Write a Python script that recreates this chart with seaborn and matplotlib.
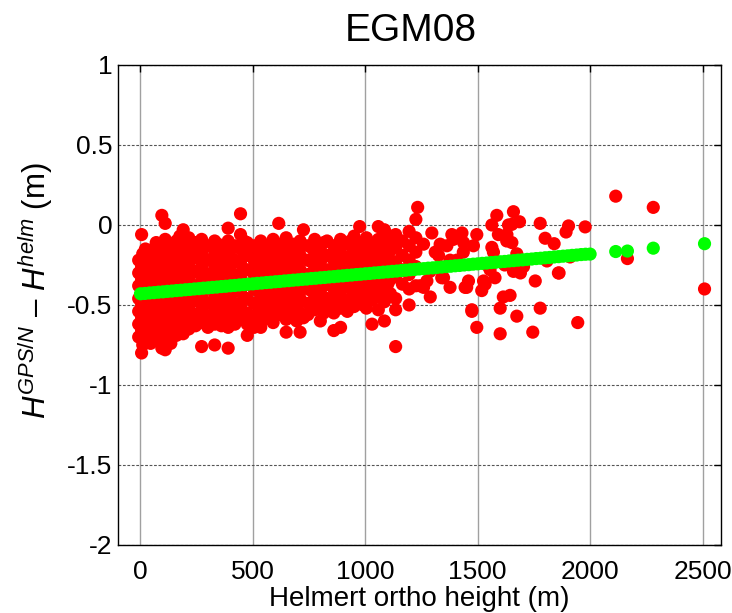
import numpy as np
import pandas as pd
import matplotlib
matplotlib.use('Agg')
import matplotlib.pyplot as plt
import seaborn as sns

# --- red: individual GPS/levelling stations ---
red_x = [
    -8, -8, -8, -8, -8, -8, -8,
    5, 5, 5, 5, 5, 5, 5, 5,
    22, 22, 22, 22, 22, 22, 22, 22,
    45, 45, 45, 45, 45, 45, 45, 45,
    70, 70, 70, 70, 70, 70, 70, 70,
    95, 95, 95, 95, 95, 95, 95, 95, 95,
    110, 110, 110, 110, 110, 110, 110, 110, 110, 110,
    135, 135, 135, 135, 135, 135, 135, 135,
    160, 160, 160, 160, 160, 160, 160, 160,
    190, 190, 190, 190, 190, 190, 190, 190, 190,
    215, 215, 215, 215, 215, 215, 215, 215,
    245, 245, 245, 245, 245, 245, 245,
    272, 272, 272, 272, 272, 272, 272, 272,
    300, 300, 300, 300, 300, 300, 300,
    330, 330, 330, 330, 330, 330, 330, 330,
    360, 360, 360, 360, 360, 360, 360,
    390, 390, 390, 390, 390, 390, 390, 390, 390,
    420, 420, 420, 420, 420, 420, 420,
    445, 445, 445, 445, 445, 445, 445, 445,
    475, 475, 475, 475, 475, 475, 475, 475,
    505, 505, 505, 505, 505, 505, 505,
    535, 535, 535, 535, 535, 535, 535, 535,
    565, 565, 565, 565, 565, 565,
    590, 590, 590, 590, 590, 590, 590,
    615, 615, 615, 615, 615, 615, 615,
    648, 648, 648, 648, 648, 648, 648, 648,
    678, 678, 678, 678, 678, 678,
    710, 710, 710, 710, 710, 710, 710,
    725, 725,
    745, 745, 745, 745, 745, 745,
    775, 775, 775, 775, 775, 775,
    800, 800, 800, 800, 800, 800,
    830, 830, 830, 830, 830, 830,
    860, 860, 860, 860, 860, 860, 860,
    890, 890, 890, 890, 890, 890, 890,
    920, 920, 920, 920, 920, 920,
    950, 950, 950, 950, 950, 950,
    975, 975, 975, 975, 975, 975,
    1005, 1005, 1005, 1005, 1005, 1005,
    1030, 1030, 1030, 1030, 1030, 1030,
    1058, 1058, 1058, 1058, 1058, 1058, 1058,
    1085, 1085, 1085, 1085, 1085, 1085, 1085,
    1112, 1112, 1112, 1112, 1112,
    1135, 1135, 1135, 1135, 1135, 1135, 1135,
    1165, 1165, 1165, 1165,
    1195, 1195, 1195, 1195, 1195, 1195,
    1225, 1225, 1225, 1225, 1225,
    1233, 1244, 1259, 1259, 1274, 1288, 1289, 1296, 1311, 1326,
    1333, 1340, 1348, 1363, 1377, 1377, 1385, 1392, 1407, 1430,
    1436, 1437, 1444, 1451, 1459, 1474, 1474, 1481, 1496, 1496,
    1518, 1526, 1533, 1541, 1555, 1563, 1563, 1570, 1577, 1585,
    1592, 1600, 1600, 1614, 1620, 1629, 1630, 1637, 1644, 1652,
    1652, 1659, 1659, 1674, 1674, 1686, 1690, 1704, 1745, 1756,
    1778, 1778, 1800, 1808, 1840, 1859, 1862, 1893, 1904, 1911,
    1945, 1978,
    2114, 2166, 2281, 2509,
]
red_y = [
    -0.22, -0.30, -0.38, -0.46, -0.54, -0.62, -0.70,
    -0.06, -0.26, -0.34, -0.42, -0.50, -0.58, -0.66, -0.80,
    -0.15, -0.24, -0.32, -0.40, -0.48, -0.56, -0.64, -0.72,
    -0.18, -0.27, -0.35, -0.44, -0.52, -0.60, -0.68, -0.74,
    -0.11, -0.20, -0.29, -0.37, -0.46, -0.55, -0.63, -0.71,
    0.06, -0.13, -0.22, -0.31, -0.40, -0.49, -0.58, -0.66, -0.77,
    0.01, -0.09, -0.17, -0.26, -0.35, -0.44, -0.53, -0.61, -0.70, -0.78,
    -0.14, -0.23, -0.32, -0.41, -0.50, -0.58, -0.66, -0.74,
    -0.10, -0.19, -0.28, -0.37, -0.46, -0.55, -0.63, -0.69,
    -0.03, -0.12, -0.21, -0.30, -0.39, -0.48, -0.57, -0.64, -0.68,
    -0.08, -0.16, -0.25, -0.34, -0.43, -0.52, -0.60, -0.65,
    -0.11, -0.20, -0.29, -0.38, -0.47, -0.56, -0.63,
    -0.09, -0.17, -0.26, -0.35, -0.44, -0.53, -0.61, -0.76,
    -0.13, -0.22, -0.31, -0.40, -0.49, -0.57, -0.64,
    -0.10, -0.18, -0.27, -0.36, -0.45, -0.54, -0.62, -0.75,
    -0.14, -0.23, -0.32, -0.41, -0.50, -0.58, -0.63,
    -0.02, -0.10, -0.19, -0.28, -0.37, -0.46, -0.55, -0.64, -0.77,
    -0.13, -0.22, -0.31, -0.40, -0.49, -0.57, -0.62,
    0.07, -0.06, -0.15, -0.24, -0.33, -0.42, -0.51, -0.59,
    -0.11, -0.19, -0.28, -0.37, -0.46, -0.55, -0.62, -0.69,
    -0.13, -0.22, -0.31, -0.40, -0.49, -0.57, -0.64,
    -0.10, -0.18, -0.27, -0.36, -0.45, -0.54, -0.61, -0.64,
    -0.14, -0.23, -0.32, -0.41, -0.50, -0.58,
    -0.09, -0.18, -0.27, -0.36, -0.45, -0.54, -0.61,
    0.01, -0.12, -0.21, -0.30, -0.39, -0.48, -0.56,
    -0.08, -0.16, -0.25, -0.34, -0.43, -0.52, -0.59, -0.67,
    -0.12, -0.21, -0.30, -0.39, -0.48, -0.56,
    -0.10, -0.19, -0.28, -0.37, -0.46, -0.55, -0.67,
    -0.03, -0.58,
    -0.13, -0.22, -0.31, -0.40, -0.49, -0.56,
    -0.09, -0.18, -0.27, -0.36, -0.45, -0.53,
    -0.14, -0.23, -0.32, -0.41, -0.50, -0.60,
    -0.10, -0.19, -0.28, -0.37, -0.46, -0.53,
    -0.13, -0.22, -0.31, -0.40, -0.49, -0.55, -0.66,
    -0.09, -0.18, -0.27, -0.36, -0.45, -0.52, -0.64,
    -0.12, -0.21, -0.30, -0.39, -0.47, -0.54,
    -0.07, -0.16, -0.25, -0.34, -0.43, -0.51,
    -0.01, -0.11, -0.20, -0.29, -0.38, -0.46,
    -0.08, -0.17, -0.26, -0.35, -0.44, -0.52,
    -0.12, -0.21, -0.30, -0.39, -0.47, -0.62,
    -0.01, -0.09, -0.18, -0.27, -0.36, -0.45, -0.53,
    -0.03, -0.13, -0.22, -0.31, -0.40, -0.48, -0.60,
    -0.07, -0.16, -0.25, -0.34, -0.43,
    -0.06, -0.14, -0.23, -0.32, -0.46, -0.53, -0.76,
    -0.10, -0.19, -0.28, -0.37,
    -0.04, -0.13, -0.22, -0.31, -0.40, -0.50,
    0.035, -0.08, -0.17, -0.26, -0.38,
    0.11, -0.38, -0.12, -0.39, -0.35, -0.29, -0.45, -0.05, -0.17, -0.19,
    -0.12, -0.33, -0.33, -0.13, -0.39, -0.22, -0.06, -0.09, -0.22, -0.05,
    -0.17, -0.11, -0.39, -0.39, -0.35, -0.53, -0.54, -0.13, -0.06, -0.64,
    -0.41, -0.35, -0.37, -0.25, -0.28, 0.0, -0.14, -0.17, -0.33, 0.06,
    -0.06, -0.68, -0.52, -0.45, -0.25, -0.10, -0.06, 0.0, -0.44, 0.004,
    -0.11, 0.083, -0.29, -0.57, -0.18, 0.02, -0.30, -0.26, -0.67, -0.35,
    0.01, -0.52, -0.083, -0.225, -0.117, -0.30, -0.30, -0.044, -0.006, -0.20,
    -0.61, -0.012,
    0.18, -0.21, 0.11, -0.40,
]

# more stations inside the dense low-height cloud
fill_x = [
    10, 10, 10, 10, 10,
    58, 58, 58, 58, 58, 58,
    122, 122, 122, 122, 122, 122,
    175, 175, 175, 175, 175, 175,
    230, 230, 230, 230, 230, 230,
    286, 286, 286, 286, 286, 286,
    345, 345, 345, 345, 345, 345,
    405, 405, 405, 405, 405, 405,
    460, 460, 460, 460, 460, 460,
    520, 520, 520, 520, 520, 520,
    578, 578, 578, 578, 578, 578,
    632, 632, 632, 632, 632,
    695, 695, 695, 695, 695, 695,
    760, 760, 760, 760, 760,
    815, 815, 815, 815, 815, 815,
    875, 875, 875, 875, 875,
    935, 935, 935, 935, 935,
    990, 990, 990, 990, 990,
    1045, 1045, 1045, 1045,
    1100, 1100, 1100, 1100, 1100,
]
fill_y = [
    -0.18, -0.30, -0.44, -0.58, -0.75,
    -0.15, -0.24, -0.40, -0.49, -0.57, -0.66,
    -0.13, -0.22, -0.31, -0.48, -0.57, -0.65,
    -0.07, -0.16, -0.25, -0.34, -0.52, -0.60,
    -0.13, -0.21, -0.30, -0.39, -0.48, -0.57,
    -0.13, -0.22, -0.31, -0.40, -0.49, -0.57,
    -0.12, -0.21, -0.30, -0.39, -0.48, -0.56,
    -0.15, -0.24, -0.33, -0.42, -0.51, -0.59,
    -0.10, -0.19, -0.28, -0.37, -0.47, -0.56,
    -0.15, -0.24, -0.33, -0.41, -0.50, -0.59,
    -0.12, -0.21, -0.30, -0.39, -0.48, -0.57,
    -0.14, -0.23, -0.32, -0.41, -0.50,
    -0.15, -0.24, -0.33, -0.42, -0.51, -0.60,
    -0.14, -0.23, -0.32, -0.41, -0.49,
    -0.11, -0.20, -0.29, -0.38, -0.47, -0.55,
    -0.16, -0.25, -0.34, -0.43, -0.51,
    -0.10, -0.19, -0.28, -0.37, -0.46,
    -0.15, -0.24, -0.33, -0.42, -0.50,
    -0.14, -0.23, -0.32, -0.41,
    -0.10, -0.19, -0.28, -0.37, -0.45,
]

# --- green: fitted trend at the station heights ---
green_x = [
    0, 20, 40, 60, 80, 100, 120, 140, 160, 180,
    200, 220, 240, 260, 280, 300, 320, 340, 360, 380,
    400, 420, 440, 460, 480, 500, 520, 540, 560, 580,
    600, 620, 640, 660, 680, 700, 720, 740, 760, 780,
    800, 820, 840, 860, 880, 900, 920, 940, 960, 980,
    1000, 1020, 1040, 1060, 1080, 1100, 1120, 1140, 1160, 1180,
    1200, 1220, 1240, 1260, 1280, 1300, 1320, 1340, 1360, 1380,
    1400, 1420, 1440, 1460, 1480, 1500, 1520, 1540, 1560, 1580,
    1600, 1620, 1640, 1660, 1680, 1700, 1720, 1740, 1760, 1780,
    1800, 1820, 1840, 1860, 1880, 1900, 1920, 1940, 1960, 1980,
    2000, 2114, 2166, 2281, 2509,
]
green_y = [
    -0.430, -0.428, -0.425, -0.423, -0.420, -0.418, -0.415, -0.413, -0.410, -0.408,
    -0.405, -0.403, -0.400, -0.398, -0.395, -0.393, -0.390, -0.388, -0.385, -0.383,
    -0.380, -0.378, -0.375, -0.373, -0.370, -0.368, -0.365, -0.363, -0.360, -0.358,
    -0.355, -0.353, -0.350, -0.348, -0.345, -0.343, -0.340, -0.338, -0.335, -0.333,
    -0.330, -0.328, -0.325, -0.323, -0.320, -0.318, -0.315, -0.313, -0.310, -0.308,
    -0.305, -0.303, -0.300, -0.298, -0.295, -0.293, -0.290, -0.288, -0.285, -0.283,
    -0.280, -0.278, -0.275, -0.273, -0.270, -0.268, -0.265, -0.263, -0.260, -0.258,
    -0.255, -0.253, -0.250, -0.248, -0.245, -0.243, -0.240, -0.238, -0.235, -0.233,
    -0.230, -0.228, -0.225, -0.223, -0.220, -0.218, -0.215, -0.213, -0.210, -0.208,
    -0.205, -0.203, -0.200, -0.198, -0.195, -0.193, -0.190, -0.188, -0.185, -0.183,
    -0.182, -0.166, -0.163, -0.145, -0.117,
]

x_ticks = [0, 500, 1000, 1500, 2000, 2500]
y_ticks = [-2, -1.5, -1, -0.5, 0, 0.5, 1]
y_ticklabels = ['-2', '-1.5', '-1', '-0.5', '0', '0.5', '1']

red_df = pd.DataFrame({'h': red_x + fill_x, 'dh': red_y + fill_y})
green_df = pd.DataFrame({'h': green_x, 'dh': green_y})

sns.set_style('white')
plt.rcParams['font.family'] = ['Liberation Sans', 'DejaVu Sans']
plt.rcParams['mathtext.fontset'] = 'custom'
plt.rcParams['mathtext.it'] = 'Liberation Sans:italic'
plt.rcParams['mathtext.rm'] = 'Liberation Sans'
plt.rcParams['text.color'] = 'black'
plt.rcParams['axes.labelcolor'] = 'black'

fig = plt.figure(figsize=(7.32, 6.13), dpi=100)
ax = fig.add_axes([0.1612, 0.111, 0.824, 0.783])

# grid first so the markers sit on top
for xt in x_ticks:
    ax.axvline(xt, color='#a0a0a0', lw=1.0, zorder=0)
for yt in y_ticks:
    ax.axhline(yt, color='#555555', lw=0.8, ls=(0, (2.5, 1.5)), zorder=0)

sns.scatterplot(data=red_df, x='h', y='dh', color='#ff0000', s=90,
                edgecolor='none', linewidth=0, ax=ax, zorder=2)
sns.scatterplot(data=green_df, x='h', y='dh', color='#00ff00', s=90,
                edgecolor='none', linewidth=0, ax=ax, zorder=3)

ax.set_xlim(-100, 2583)
ax.set_ylim(-2, 1)
ax.set_xticks(x_ticks)
ax.set_yticks(y_ticks)
ax.set_yticklabels(y_ticklabels)
ax.tick_params(direction='in', length=5, width=1, top=True, right=True,
               labelsize=19, colors='black')
ax.tick_params(axis='x', pad=11)
ax.tick_params(axis='y', pad=4)
for sp in ax.spines.values():
    sp.set_color('black')
    sp.set_linewidth(1.0)

ax.set_title('EGM08', fontsize=28, pad=17, color='black', x=0.485)
ax.set_xlabel('Helmert ortho height (m)', fontsize=20, labelpad=1)
ax.set_ylabel(r'$H^{GPS/N}$ – $H^{helm}$ (m)', fontsize=22.5)
ax.yaxis.set_label_coords(-0.105, 0.53)

fig.savefig('out.png', dpi=100)
